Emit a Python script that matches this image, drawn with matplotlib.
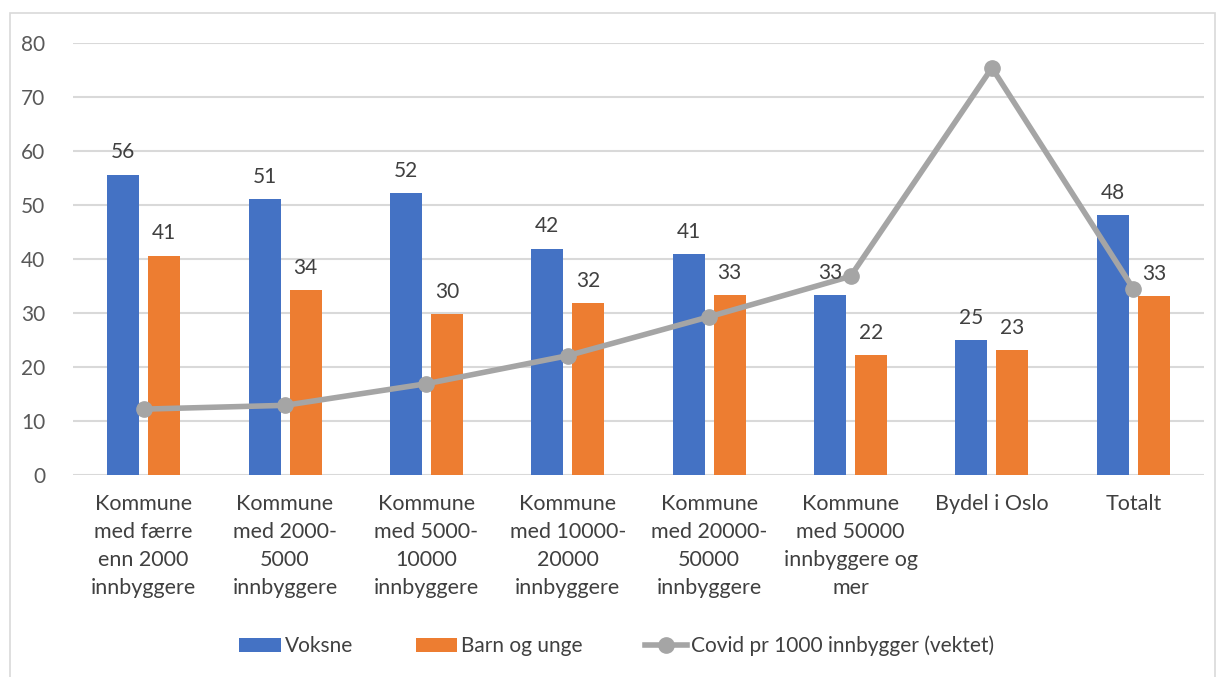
import numpy as np
import matplotlib.pyplot as plt
from matplotlib.patches import Rectangle

categories = [
    "Kommune\nmed færre\nenn 2000\ninnbyggere",
    "Kommune\nmed 2000-\n5000\ninnbyggere",
    "Kommune\nmed 5000-\n10000\ninnbyggere",
    "Kommune\nmed 10000-\n20000\ninnbyggere",
    "Kommune\nmed 20000-\n50000\ninnbyggere",
    "Kommune\nmed 50000\ninnbyggere og\nmer",
    "Bydel i Oslo",
    "Totalt",
]
voksne = [55.6, 51.1, 52.2, 41.9, 40.9, 33.3, 25.0, 48.1]
barn = [40.6, 34.2, 29.8, 31.8, 33.3, 22.2, 23.1, 33.1]
covid = [12.2, 12.9, 16.9, 22.1, 29.3, 36.8, 75.4, 34.5]

blue = "#4472C4"
orange = "#ED7D31"
grey = "#A5A5A5"
txt = "#404040"

plt.rcParams['font.family'] = ['Lato', 'DejaVu Sans']

fig = plt.figure(figsize=(12.21, 6.77), dpi=100)
ax = fig.add_axes([73 / 1221, 1 - 475 / 677, (1204 - 73) / 1221, (475 - 43) / 677])

x = np.arange(len(categories))
w = 0.226
off = 0.145
b1 = ax.bar(x - off, voksne, w, color=blue, label="Voksne", zorder=2)
b2 = ax.bar(x + off, barn, w, color=orange, label="Barn og unge", zorder=2)
ln, = ax.plot(x, covid, color=grey, lw=4, marker='o', ms=11, label="Covid pr 1000 innbygger (vektet)", zorder=3)

for bars, vals in [(b1, voksne), (b2, barn)]:
    for r, v in zip(bars, vals):
        ax.annotate(f"{v:.0f}", (r.get_x() + r.get_width() / 2, v), xytext=(0, 9),
                    textcoords='offset points', ha='center', va='bottom', fontsize=15, color=txt, zorder=4)

ax.set_xlim(-0.5, len(categories) - 0.5)
ax.set_ylim(0, 80)
ax.set_yticks(range(0, 81, 10))
ax.set_xticks(x)
ax.set_xticklabels(categories, fontsize=15.5, color=txt, linespacing=1.5, va='top')
ax.tick_params(axis='y', labelsize=15, labelcolor="#595959", length=0, pad=20)
ax.tick_params(axis='x', length=0, pad=14)
ax.grid(axis='y', color="#D9D9D9", lw=1.5, zorder=0)
for s in ax.spines.values():
    s.set_visible(False)

fig.patches.append(Rectangle((10 / 1221, -0.05), 1205 / 1221, 1.05 - 13 / 677, transform=fig.transFigure,
                             fill=False, edgecolor="#D9D9D9", lw=1.2))

fig.legend(handles=[b1, b2, ln], loc='center', bbox_to_anchor=(0.505, 1 - 646 / 677), ncol=3, frameon=False,
           fontsize=15, handlelength=2.0, handleheight=0.6, handletextpad=0.2, columnspacing=3.0,
           labelcolor=txt)

fig.savefig("out.png", dpi=100)
